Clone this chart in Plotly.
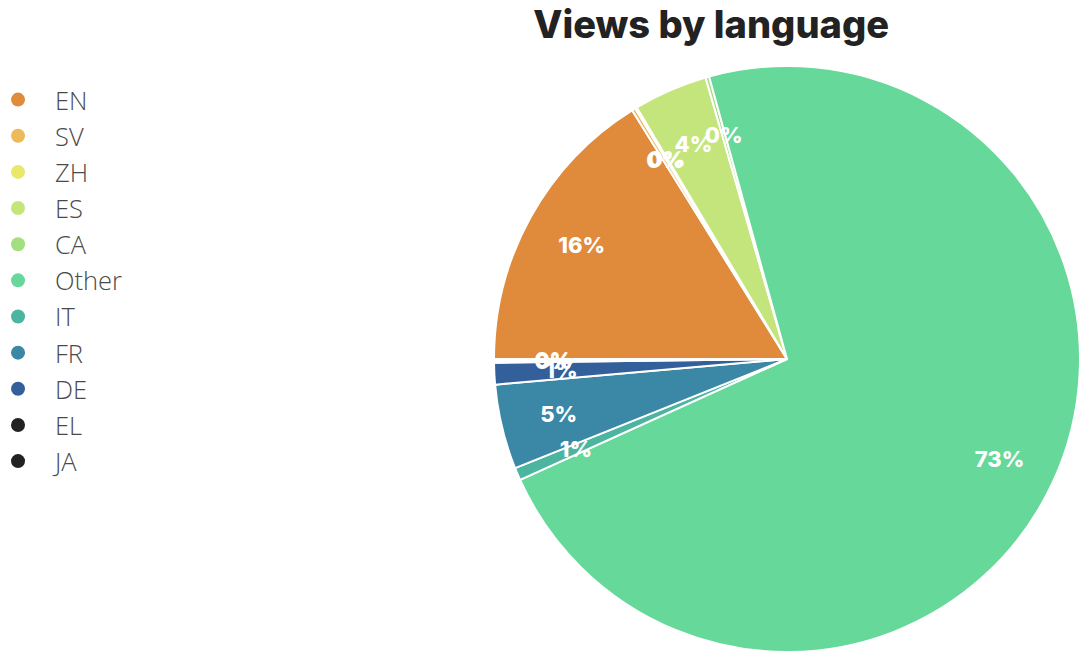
import plotly.graph_objects as go

labels = ["EN", "SV", "ZH", "ES", "CA", "Other", "IT", "FR", "DE", "EL", "JA"]
values = [162, 2, 1, 41, 2, 728, 7, 47, 12, 1, 1]
colors = ["#E08A3C", "#EDBA5A", "#E8E86A", "#C4E57C", "#A2DF80", "#66D89A",
          "#4CB5A0", "#3A87A6", "#33609A", "#222222", "#222222"]

total = sum(values)
big = [v / total >= 0.02 for v in values]
clear = ["rgba(0,0,0,0)"] * len(values)
label_font = dict(family="Inter", size=22, color="white", weight=800)

fig = go.Figure()
# coloured slices
fig.add_trace(go.Pie(
    labels=labels, values=values, sort=False, direction="clockwise",
    rotation=270, marker=dict(colors=colors, line=dict(color="white", width=2)),
    textinfo="none", showlegend=False,
    domain=dict(x=[0.452, 1], y=[0, 1]), hoverinfo="label+percent",
))
# transparent overlays that only carry the percentage labels (~0.8 R)
fig.add_trace(go.Pie(
    labels=labels, values=values, sort=False, direction="clockwise",
    rotation=270, hole=0.78, marker=dict(colors=clear, line=dict(width=0)),
    texttemplate=["%{percent:.0%}" if b else "" for b in big],
    textposition="inside", insidetextorientation="horizontal",
    textfont=label_font, showlegend=False, hoverinfo="skip",
    domain=dict(x=[0.452, 1], y=[0.05, 0.95]),
))
fig.add_trace(go.Pie(
    labels=labels, values=values, sort=False, direction="clockwise",
    rotation=270, marker=dict(colors=clear, line=dict(width=0)),
    texttemplate=["" if b else "%{percent:.0%}" for b in big],
    textposition="inside", insidetextorientation="horizontal",
    textfont=label_font, showlegend=False, hoverinfo="skip",
    domain=dict(x=[0.452, 1], y=[0.1, 0.9]),
))
for lab, col in zip(labels, colors):
    fig.add_trace(go.Scatter(x=[None], y=[None], mode="markers", name=lab,
                             marker=dict(color=col, size=14, symbol="circle"),
                             showlegend=True))

fig.update_layout(
    width=1084, height=657,
    margin=dict(l=0, r=0, t=66, b=5, autoexpand=False),
    paper_bgcolor="white", plot_bgcolor="white",
    title=dict(text="Views by language", x=0.656, xanchor="center",
               y=1 - 25 / 657, yanchor="middle", yref="container",
               font=dict(family="Inter", size=38, color="#222222", weight=800)),
    legend=dict(x=-0.0175, xanchor="left", y=0.982, yanchor="top",
                font=dict(family="Open Sans", size=25.5, color="#4a4a4a", weight=300),
                itemwidth=64, bgcolor="rgba(0,0,0,0)"),
    uniformtext=dict(minsize=22, mode="show"),
    xaxis=dict(visible=False), yaxis=dict(visible=False),
)
fig.write_html("out.html")
